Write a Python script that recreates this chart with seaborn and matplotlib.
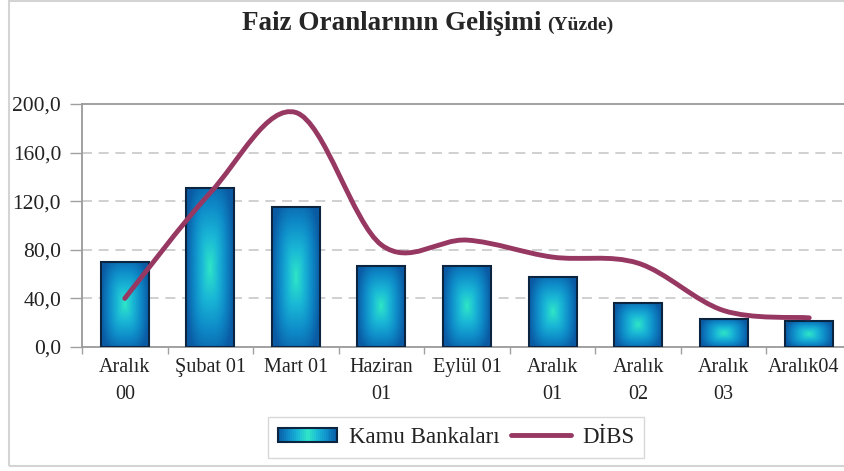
import numpy as np
import pandas as pd
import matplotlib
matplotlib.use('Agg')
import matplotlib.pyplot as plt
import seaborn as sns
from matplotlib.path import Path
from matplotlib.patches import PathPatch, Rectangle
from matplotlib.lines import Line2D
from matplotlib.legend_handler import HandlerBase
from matplotlib.colors import LinearSegmentedColormap
from matplotlib.transforms import ScaledTranslation

# Veriler (grafikten okunan yaklaşık değerler, %)
donemler = ['Aralık\n00', 'Şubat 01', 'Mart 01', 'Haziran\n01', 'Eylül 01',
            'Aralık\n01', 'Aralık\n02', 'Aralık\n03', 'Aralık04']
kamu_bankalari = [70.0, 130.5, 115.0, 67.0, 67.0, 58.0, 36.5, 23.0, 21.0]
dibs = [40.0, 127.0, 193.0, 84.0, 88.0, 74.0, 69.0, 30.0, 24.0]
y_ticks = [0, 40, 80, 120, 160, 200]

df = pd.DataFrame({'donem': donemler, 'kamu': kamu_bankalari, 'dibs': dibs})

sns.set_theme(style='white')
plt.rcParams['font.family'] = ['Liberation Serif', 'DejaVu Serif']

# merkezden kenara degrade (Excel tarzı çubuk dolgusu)
degrade = LinearSegmentedColormap.from_list(
    'kamu', ['#2fe6c6', '#1ab8d6', '#0e8ac8', '#0a5ba4'])
cizgi_rengi = '#973862'
kenar_rengi = '#0b2440'

fig = plt.figure(figsize=(8.44, 4.71), dpi=100)
ax = fig.add_axes([82 / 844, 124 / 471, 770 / 844, 243 / 471])

sns.barplot(data=df, x='donem', y='kamu', color='#1590cc', width=0.56,
            edgecolor=kenar_rengi, linewidth=1.5, ax=ax, zorder=3)

# her çubuğa degrade doldur (köşeleri yumuşatılmış dikdörtgen degrade)
u = np.linspace(-1, 1, 160)
uu, vv = np.meshgrid(u, u)
t = np.clip((np.abs(uu) ** 3 + (0.85 * np.abs(vv)) ** 3) ** (1 / 3), 0, 1)
for bar in ax.patches:
    x0, y0 = bar.get_x(), bar.get_y()
    w, h = bar.get_width(), bar.get_height()
    img = ax.imshow(t, cmap=degrade, vmin=0, vmax=1, aspect='auto',
                    extent=[x0, x0 + w, y0, y0 + h], zorder=2.5,
                    interpolation='bilinear')
    img.set_clip_path(bar)
    bar.set_facecolor('none')

# DİBS - yumuşatılmış çizgi (Bezier)
xs = np.arange(len(dibs), dtype=float)
ys = np.array(dibs)
pts = np.column_stack([xs, ys])
verts = [pts[0]]
codes = [Path.MOVETO]
for i in range(len(pts) - 1):
    p0 = pts[i - 1] if i > 0 else pts[i]
    p1, p2 = pts[i], pts[i + 1]
    p3 = pts[i + 2] if i + 2 < len(pts) else pts[i + 1]
    verts += [p1 + (p2 - p0) / 6, p2 - (p3 - p1) / 6, p2]
    codes += [Path.CURVE4] * 3
ax.add_patch(PathPatch(Path(verts, codes), facecolor='none',
                       edgecolor=cizgi_rengi, lw=3.5, zorder=4,
                       capstyle='round', joinstyle='round'))

ax.set_xlim(-0.5, len(donemler) - 0.5)
ax.set_ylim(0, 200)
ax.set_yticks(y_ticks)
ax.set_yticklabels([f'{v:.1f}'.replace('.', ',') for v in y_ticks])
ax.set_xticks(range(len(donemler)))
ax.set_xticklabels(donemler, linespacing=1.55)
ax.set_xticks(np.arange(-0.5, len(donemler)), minor=True)
ax.set_xlabel('')
ax.set_ylabel('')

ax.tick_params(axis='x', which='major', length=0, pad=8, labelsize=14.5,
               labelcolor='#222222')
ax.tick_params(axis='x', which='minor', length=5, color='#a0a0a0',
               width=1, direction='out', bottom=True)
ax.tick_params(axis='y', length=9, color='#a0a0a0', width=1,
               direction='out', left=True, pad=6, labelsize=15.5,
               labelcolor='#222222')
# son etiket sağ kenarda kesilmesin: birkaç piksel sola kaydır
son = ax.get_xticklabels()[-1]
son.set_transform(son.get_transform()
                  + ScaledTranslation(-4 / 72, 0, fig.dpi_scale_trans))

for v in y_ticks[1:-1]:
    ax.axhline(v, color='#c8c8c8', lw=1.2, ls=(0, (6, 4)), zorder=1)
for s in ['left', 'bottom', 'top']:
    ax.spines[s].set_color('#9a9a9a')
    ax.spines[s].set_linewidth(1.3)
ax.spines['right'].set_visible(False)


# lejant için degrade kutu
class DegradeHandler(HandlerBase):
    def create_artists(self, legend, orig_handle, xdescent, ydescent,
                       width, height, fontsize, trans):
        parcalar = []
        n = 30
        hy = height * 0.85
        y0 = -ydescent + (height - hy) / 2
        for k in range(n):
            tt = abs((k + 0.5) / n * 2 - 1)
            parcalar.append(Rectangle((-xdescent + k * width / n, y0),
                                      width / n + 0.3, hy,
                                      facecolor=degrade(tt), lw=0,
                                      transform=trans))
        parcalar.append(Rectangle((-xdescent, y0), width, hy,
                                  facecolor='none', edgecolor=kenar_rengi,
                                  lw=1.5, transform=trans))
        return parcalar


kutu = Rectangle((0, 0), 1, 1)
cizgi = Line2D([], [], color=cizgi_rengi, lw=3.5)
leg = fig.legend([kutu, cizgi], ['Kamu Bankaları', 'DİBS'],
                 loc='center', bbox_to_anchor=(456 / 844, 0.071), ncol=2,
                 fontsize=16.5, frameon=True, fancybox=False,
                 edgecolor='#cfcfcf', handlelength=2.6, handletextpad=0.5,
                 columnspacing=0.5, borderpad=0.45,
                 handler_map={Rectangle: DegradeHandler()})
leg.get_frame().set_linewidth(1.0)
for txt in leg.get_texts():
    txt.set_color('#222222')

# başlık
fig.text(541 / 844, 1 - 30 / 471, 'Faiz Oranlarının Gelişimi',
         ha='right', va='baseline', fontsize=19.5, fontweight='bold')
fig.text(547 / 844, 1 - 30 / 471, '(Yüzde)',
         ha='left', va='baseline', fontsize=14, fontweight='bold')

# dış çerçeve
fig.patches.append(Rectangle((9 / 844, 5 / 471), 1.0, 465 / 471,
                             transform=fig.transFigure, fill=False,
                             edgecolor='#d4d4d4', lw=1.5))

fig.savefig('out.png', dpi=100)
